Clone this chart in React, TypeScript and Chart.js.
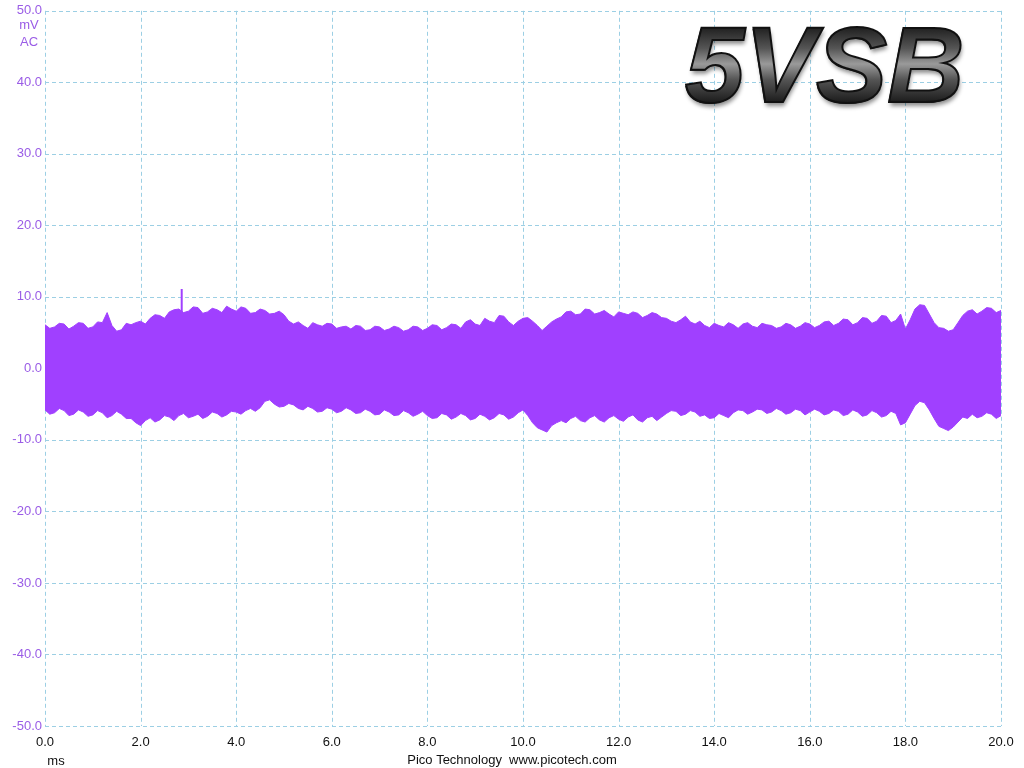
import { useEffect, useRef } from "react";
import { Chart, registerables } from "chart.js";

Chart.register(...registerables);

// time axis (ms)
const times = [
  0.0, 0.1, 0.2, 0.3, 0.4, 0.5, 0.6, 0.7, 0.8, 0.9,
  1.0, 1.1, 1.2, 1.3, 1.4, 1.5, 1.6, 1.7, 1.8, 1.9,
  2.0, 2.1, 2.2, 2.3, 2.4, 2.5, 2.6, 2.7, 2.8, 2.9,
  3.0, 3.1, 3.2, 3.3, 3.4, 3.5, 3.6, 3.7, 3.8, 3.9,
  4.0, 4.1, 4.2, 4.3, 4.4, 4.5, 4.6, 4.7, 4.8, 4.9,
  5.0, 5.1, 5.2, 5.3, 5.4, 5.5, 5.6, 5.7, 5.8, 5.9,
  6.0, 6.1, 6.2, 6.3, 6.4, 6.5, 6.6, 6.7, 6.8, 6.9,
  7.0, 7.1, 7.2, 7.3, 7.4, 7.5, 7.6, 7.7, 7.8, 7.9,
  8.0, 8.1, 8.2, 8.3, 8.4, 8.5, 8.6, 8.7, 8.8, 8.9,
  9.0, 9.1, 9.2, 9.3, 9.4, 9.5, 9.6, 9.7, 9.8, 9.9,
  10.0, 10.1, 10.2, 10.3, 10.4, 10.5, 10.6, 10.7, 10.8, 10.9,
  11.0, 11.1, 11.2, 11.3, 11.4, 11.5, 11.6, 11.7, 11.8, 11.9,
  12.0, 12.1, 12.2, 12.3, 12.4, 12.5, 12.6, 12.7, 12.8, 12.9,
  13.0, 13.1, 13.2, 13.3, 13.4, 13.5, 13.6, 13.7, 13.8, 13.9,
  14.0, 14.1, 14.2, 14.3, 14.4, 14.5, 14.6, 14.7, 14.8, 14.9,
  15.0, 15.1, 15.2, 15.3, 15.4, 15.5, 15.6, 15.7, 15.8, 15.9,
  16.0, 16.1, 16.2, 16.3, 16.4, 16.5, 16.6, 16.7, 16.8, 16.9,
  17.0, 17.1, 17.2, 17.3, 17.4, 17.5, 17.6, 17.7, 17.8, 17.9,
  18.0, 18.1, 18.2, 18.3, 18.4, 18.5, 18.6, 18.7, 18.8, 18.9,
  19.0, 19.1, 19.2, 19.3, 19.4, 19.5, 19.6, 19.7, 19.8, 19.9,
  20.0,
];

// upper envelope of the 5VSB ripple (mV)
const upperEnvelope = [
  6.1, 5.6, 5.8, 6.3, 6.2, 5.5, 5.9, 6.4, 6.3, 5.6,
  5.8, 6.5, 6.4, 7.8, 6.0, 5.2, 5.4, 6.3, 6.1, 6.4,
  6.6, 6.2, 7.0, 7.5, 7.4, 7.0, 7.9, 8.2, 8.3, 7.8,
  8.0, 8.6, 8.5, 7.7, 7.9, 8.4, 8.2, 7.8, 8.7, 8.3,
  8.0, 8.6, 8.4, 7.7, 7.8, 8.3, 8.1, 7.6, 7.7, 8.0,
  7.5, 6.6, 6.2, 6.5, 6.0, 5.6, 6.4, 6.1, 5.9, 6.3,
  6.2, 5.6, 5.8, 5.9, 5.5, 6.0, 5.9, 5.3, 5.4, 5.9,
  5.8, 5.3, 5.5, 5.9, 5.7, 5.2, 5.4, 5.9, 5.8, 5.3,
  5.6, 6.1, 6.0, 5.4, 5.7, 6.2, 6.1, 5.6, 6.5, 6.8,
  6.2, 6.0, 7.0, 6.6, 6.4, 7.4, 7.3, 6.5, 6.0, 6.6,
  7.0, 7.1, 6.6, 6.0, 5.3, 5.9, 6.5, 6.9, 7.2, 7.9,
  8.0, 7.5, 7.6, 8.3, 8.2, 7.6, 7.8, 8.1, 7.6, 7.2,
  7.9, 7.7, 7.5, 7.9, 7.7, 7.1, 7.4, 7.8, 7.6, 7.1,
  7.0, 6.6, 6.4, 6.8, 7.3, 6.5, 6.2, 6.6, 6.0, 5.7,
  6.3, 6.0, 5.8, 6.4, 6.1, 5.6, 6.2, 6.4, 5.9, 5.7,
  6.3, 6.1, 6.0, 5.6, 5.8, 6.3, 6.1, 5.6, 5.9, 6.4,
  6.2, 5.7, 6.0, 6.5, 6.6, 6.0, 6.3, 6.9, 6.8, 6.1,
  6.4, 7.1, 7.0, 6.3, 6.6, 7.4, 7.3, 6.4, 6.7, 7.6,
  5.5, 6.8, 8.3, 8.9, 8.8, 7.6, 6.4, 5.7, 5.6, 5.2,
  5.4, 6.4, 7.4, 8.0, 8.2, 7.6, 8.0, 8.5, 8.4, 7.8,
  8.1,
];

// lower envelope of the 5VSB ripple (mV)
const lowerEnvelope = [
  -5.8, -6.4, -6.2, -5.6, -5.9, -6.6, -6.4, -5.8, -6.1, -6.7,
  -6.5, -5.9, -6.2, -6.9, -6.6, -6.0, -6.4, -7.0, -7.0, -7.6,
  -8.0, -7.3, -6.9, -7.5, -7.2, -6.6, -6.8, -7.3, -6.6, -6.3,
  -6.9, -6.7, -6.4, -7.0, -6.7, -6.1, -6.3, -6.8, -6.5, -6.0,
  -6.1, -6.4, -5.9, -5.6, -6.0, -5.5, -4.6, -4.4, -5.0, -5.4,
  -5.3, -4.9, -5.1, -5.6, -5.8, -5.3, -5.6, -6.1, -6.0, -5.5,
  -5.7, -6.2, -6.0, -5.5, -5.8, -6.3, -6.2, -5.7, -6.0, -6.5,
  -6.4, -5.8, -6.1, -6.6, -6.5, -5.9, -6.2, -6.7, -6.4, -6.0,
  -6.6, -7.0, -6.9, -6.3, -6.5, -7.1, -6.8, -6.3, -6.6, -7.2,
  -7.0, -6.4, -6.7, -7.2, -6.9, -6.3, -6.5, -7.1, -6.8, -6.2,
  -5.8, -6.6, -7.6, -8.3, -8.6, -8.9, -8.0, -7.6, -7.3, -7.6,
  -7.0, -6.7, -7.3, -7.5, -6.9, -6.6, -7.2, -7.5, -6.9, -6.6,
  -7.1, -7.4, -6.8, -6.5, -7.2, -7.5, -6.9, -6.7, -7.3, -6.8,
  -6.3, -5.9, -6.0, -6.6, -6.4, -5.9, -6.1, -6.7, -6.5, -7.0,
  -6.9, -6.3, -6.6, -6.9, -6.2, -5.8, -5.9, -6.4, -6.1, -5.7,
  -5.8, -6.3, -6.1, -5.6, -5.9, -6.4, -6.2, -5.7, -5.9, -6.5,
  -6.1, -5.7, -6.0, -6.5, -6.3, -5.8, -6.0, -6.6, -6.4, -5.8,
  -6.1, -6.7, -6.5, -5.9, -6.2, -6.8, -6.6, -6.0, -6.3, -7.9,
  -7.6, -6.4, -5.2, -4.6, -4.8, -5.8, -7.0, -8.1, -8.4, -8.7,
  -8.2, -7.5, -6.8, -7.0, -6.4, -6.9, -6.7, -6.2, -6.4, -7.0,
  -6.6,
];

// single glitch spike
const spikeTimes = [2.86, 2.86];
const spikeValues = [6.0, 11.1];

const xTicks = [0, 2, 4, 6, 8, 10, 12, 14, 16, 18, 20];
const yTicks = [-50, -40, -30, -20, -10, 0, 10, 20, 30, 40, 50];

const TRACE = "#A040FF";
const AXIS_PURPLE = "#9A5CE6";
const GRID = "#9CCFE4";
const FONT = "'Liberation Sans', Arial, sans-serif";

const gridPlugin = {
  id: "dashedGrid",
  beforeDatasetsDraw(chart: any) {
    const ctx = chart.ctx as CanvasRenderingContext2D;
    const { left, right, top, bottom } = chart.chartArea;
    const xs = chart.scales.x;
    const ys = chart.scales.y;
    ctx.save();
    ctx.strokeStyle = GRID;
    ctx.lineWidth = 1;
    ctx.setLineDash([4, 3]);
    xTicks.forEach((v) => {
      const px = Math.round(xs.getPixelForValue(v)) + 0.5;
      ctx.beginPath();
      ctx.moveTo(px, top);
      ctx.lineTo(px, bottom);
      ctx.stroke();
    });
    yTicks.forEach((v) => {
      const py = Math.round(ys.getPixelForValue(v)) + 0.5;
      ctx.beginPath();
      ctx.moveTo(left, py);
      ctx.lineTo(right, py);
      ctx.stroke();
    });
    ctx.restore();
  },
};

const overlayPlugin = {
  id: "overlay",
  afterDraw(chart: any) {
    const ctx = chart.ctx as CanvasRenderingContext2D;
    ctx.save();
    ctx.fillStyle = AXIS_PURPLE;
    ctx.font = `13px ${FONT}`;
    ctx.textAlign = "center";
    ctx.textBaseline = "middle";
    ctx.fillText("mV", 29, 25);
    ctx.fillText("AC", 29, 42);
    ctx.fillStyle = "#111";
    ctx.fillText("ms", 56, 761);
    ctx.fillText("Pico Technology  www.picotech.com", 512, 760);

    ctx.font = `bold italic 107px ${FONT}`;
    ctx.textAlign = "left";
    ctx.textBaseline = "alphabetic";
    const tx = 684;
    const ty = 103;
    ctx.shadowColor = "rgba(0,0,0,0.45)";
    ctx.shadowBlur = 4;
    ctx.shadowOffsetX = 2;
    ctx.shadowOffsetY = 3;
    ctx.fillStyle = "#111";
    ctx.fillText("5VSB", tx, ty);
    ctx.shadowColor = "transparent";
    const g = ctx.createLinearGradient(0, ty - 78, 0, ty);
    g.addColorStop(0, "#1a1a1a");
    g.addColorStop(0.3, "#555");
    g.addColorStop(0.5, "#9a9a9a");
    g.addColorStop(0.7, "#555");
    g.addColorStop(1, "#1a1a1a");
    ctx.fillStyle = g;
    ctx.fillText("5VSB", tx + 1, ty - 1);
    ctx.lineWidth = 2;
    ctx.strokeStyle = "#111";
    ctx.strokeText("5VSB", tx + 1, ty - 1);
    ctx.restore();
  },
};

export default function App() {
  const ref = useRef<HTMLCanvasElement | null>(null);

  useEffect(() => {
    document.body.style.margin = "0";
    const canvas = ref.current;
    if (!canvas) return;
    const upper = times.map((t, i) => ({ x: t, y: upperEnvelope[i] }));
    const lower = times.map((t, i) => ({ x: t, y: lowerEnvelope[i] }));
    const spike = spikeTimes.map((t, i) => ({ x: t, y: spikeValues[i] }));

    const chart = new Chart(canvas, {
      type: "line",
      data: {
        datasets: [
          {
            label: "lower",
            data: lower,
            borderColor: TRACE,
            backgroundColor: TRACE,
            borderWidth: 1,
            pointRadius: 0,
            fill: false,
            tension: 0,
          },
          {
            label: "upper",
            data: upper,
            borderColor: TRACE,
            backgroundColor: TRACE,
            borderWidth: 1,
            pointRadius: 0,
            fill: "-1",
            tension: 0,
          },
          {
            label: "spike",
            data: spike,
            borderColor: TRACE,
            borderWidth: 2,
            pointRadius: 0,
            fill: false,
          },
        ],
      },
      options: {
        responsive: false,
        animation: false,
        layout: { padding: { top: 7, right: 23, left: 0, bottom: 0 } },
        plugins: {
          legend: { display: false },
          tooltip: { enabled: false },
        },
        scales: {
          x: {
            type: "linear",
            min: 0,
            max: 20,
            afterFit: (s: any) => {
              s.height = 42;
            },
            afterBuildTicks: (s: any) => {
              s.ticks = xTicks.map((v) => ({ value: v }));
            },
            ticks: {
              color: "#111",
              font: { size: 13, family: FONT },
              padding: 9,
              maxRotation: 0,
              autoSkip: false,
              callback: (v: any) => Number(v).toFixed(1),
            },
            grid: { display: false, drawTicks: false },
            border: { display: false },
          },
          y: {
            type: "linear",
            min: -50,
            max: 50,
            afterFit: (s: any) => {
              s.width = 45;
            },
            afterBuildTicks: (s: any) => {
              s.ticks = yTicks.map((v) => ({ value: v }));
            },
            ticks: {
              color: AXIS_PURPLE,
              font: { size: 13, family: FONT },
              padding: 3,
              autoSkip: false,
              callback: (v: any) => Number(v).toFixed(1),
            },
            grid: { display: false, drawTicks: false },
            border: { display: false },
          },
        },
      },
      plugins: [gridPlugin, overlayPlugin],
    } as any);
    return () => chart.destroy();
  }, []);

  return (
    <div style={{ position: "absolute", left: 0, top: 0, width: 1024, height: 768, background: "#fff" }}>
      <canvas ref={ref} width={1024} height={768} />
    </div>
  );
}
